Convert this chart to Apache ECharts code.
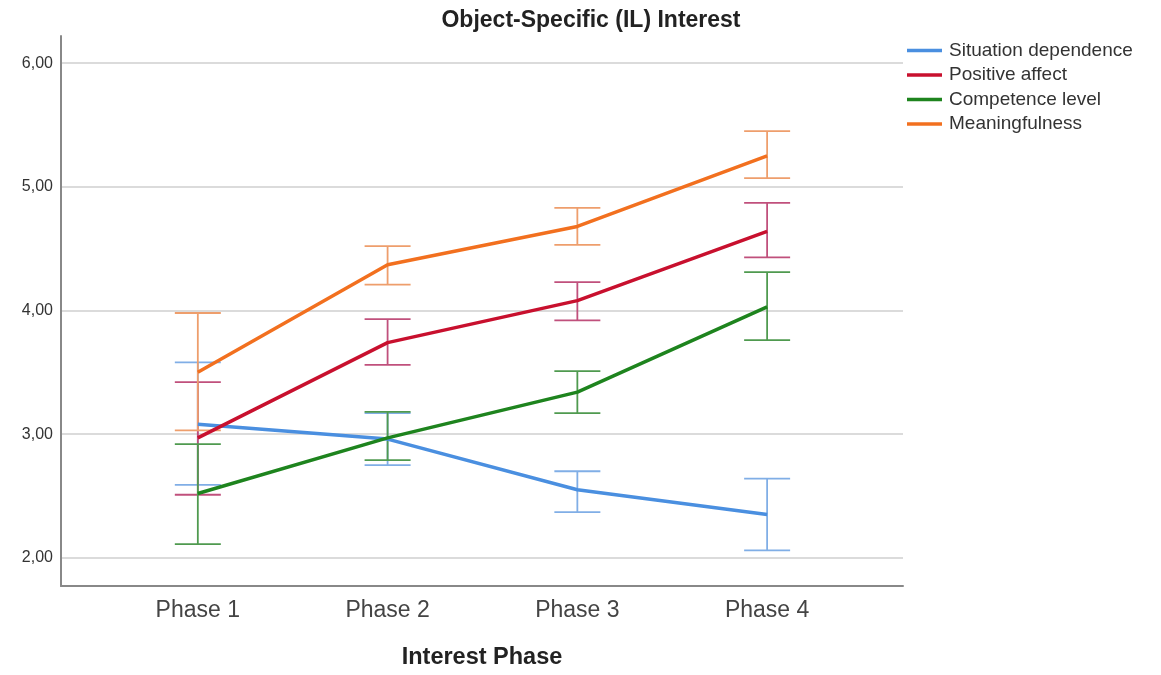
<!DOCTYPE html>
<html>
<head>
<meta charset="utf-8">
<script src="https://cdn.jsdelivr.net/npm/echarts@6/dist/echarts.min.js"></script>
<style>
html,body{margin:0;padding:0;background:#fff;}
#chart{width:1161px;height:675px;}
</style>
</head>
<body>
<div id="chart"></div>
<script>
const categories = ['Phase 1', 'Phase 2', 'Phase 3', 'Phase 4'];
const yTicks = [2, 3, 4, 5, 6];
const seriesNames = ['Situation dependence', 'Positive affect', 'Competence level', 'Meaningfulness'];

const situationMean = [3.08, 2.96, 2.55, 2.35];
const situationLow  = [2.59, 2.75, 2.37, 2.06];
const situationHigh = [3.58, 3.17, 2.70, 2.64];

const affectMean = [2.97, 3.74, 4.08, 4.64];
const affectLow  = [2.51, 3.56, 3.92, 4.43];
const affectHigh = [3.42, 3.93, 4.23, 4.87];

const competenceMean = [2.52, 2.97, 3.34, 4.03];
const competenceLow  = [2.11, 2.79, 3.17, 3.76];
const competenceHigh = [2.92, 3.18, 3.51, 4.31];

const meaningMean = [3.50, 4.37, 4.68, 5.25];
const meaningLow  = [3.03, 4.21, 4.53, 5.07];
const meaningHigh = [3.98, 4.52, 4.83, 5.45];

const lineColors = ['#4a8fe0', '#c8102e', '#1e841e', '#f2701f'];
const barColors  = ['#80aee6', '#c0507c', '#4f9a4f', '#ee9e6c'];

const means = [situationMean, affectMean, competenceMean, meaningMean];
const lows  = [situationLow, affectLow, competenceLow, meaningLow];
const highs = [situationHigh, affectHigh, competenceHigh, meaningHigh];

const xPos = categories.map((c, i) => i + 1);
const FONT = 'Liberation Sans, Arial, sans-serif';

const series = [];
means.forEach((m, s) => {
  series.push({
    type: 'custom',
    name: seriesNames[s] + ' CI',
    z: 1,
    silent: true,
    data: xPos.map((x, i) => [x, lows[s][i], highs[s][i]]),
    renderItem: function (params, api) {
      const x = api.value(0);
      const lo = api.coord([x, api.value(1)]);
      const hi = api.coord([x, api.value(2)]);
      const hw = 23;
      const style = { stroke: barColors[s], lineWidth: 1.8 };
      return {
        type: 'group',
        children: [
          { type: 'line', shape: { x1: lo[0], y1: lo[1], x2: hi[0], y2: hi[1] }, style: style },
          { type: 'line', shape: { x1: lo[0] - hw, y1: lo[1], x2: lo[0] + hw, y2: lo[1] }, style: style },
          { type: 'line', shape: { x1: hi[0] - hw, y1: hi[1], x2: hi[0] + hw, y2: hi[1] }, style: style }
        ]
      };
    }
  });
});
means.forEach((m, s) => {
  series.push({
    type: 'line',
    name: seriesNames[s],
    z: 3,
    showSymbol: false,
    data: xPos.map((x, i) => [x, m[i]]),
    lineStyle: { color: lineColors[s], width: 3.5 },
    itemStyle: { color: lineColors[s] }
  });
});

const chart = echarts.init(document.getElementById('chart'));
chart.setOption({
  animation: false,
  backgroundColor: '#ffffff',
  title: {
    text: 'Object-Specific (IL) Interest',
    left: 586, top: 4, textAlign: 'center',
    textStyle: { fontFamily: FONT, fontSize: 23, fontWeight: 'bold', color: '#222' }
  },
  legend: {
    orient: 'vertical',
    left: 902, top: 36,
    itemWidth: 35, itemHeight: 3.5, itemGap: 5.5,
    icon: 'rect',
    data: seriesNames,
    textStyle: { fontFamily: FONT, fontSize: 19, color: '#333', padding: [0, 0, 0, 2] }
  },
  grid: { left: 61, right: 258, top: 36, bottom: 83, containLabel: false },
  xAxis: {
    type: 'value',
    min: 0.279, max: 4.716,
    name: 'Interest Phase',
    nameLocation: 'middle',
    nameGap: 60,
    nameTextStyle: { fontFamily: FONT, fontSize: 23.5, fontWeight: 'bold', color: '#222' },
    axisLine: { show: true, lineStyle: { color: '#888', width: 2 } },
    axisTick: { show: false, customValues: xPos },
    splitLine: { show: false },
    axisLabel: {
      customValues: xPos,
      formatter: v => categories[Math.round(v) - 1] || '',
      margin: 13,
      fontFamily: FONT, fontSize: 23, color: '#444'
    }
  },
  yAxis: {
    type: 'value',
    min: 1.772, max: 6.22,
    axisLine: { show: true, lineStyle: { color: '#888', width: 2 } },
    axisTick: { show: false, customValues: yTicks },
    splitLine: { show: true, lineStyle: { color: '#cfcfcf', width: 1.5 } },
    axisLabel: {
      customValues: yTicks,
      formatter: v => v.toFixed(2).replace('.', ','),
      margin: 8,
      fontFamily: FONT, fontSize: 16, color: '#333'
    }
  },
  series: series
});
</script>
</body>
</html>
